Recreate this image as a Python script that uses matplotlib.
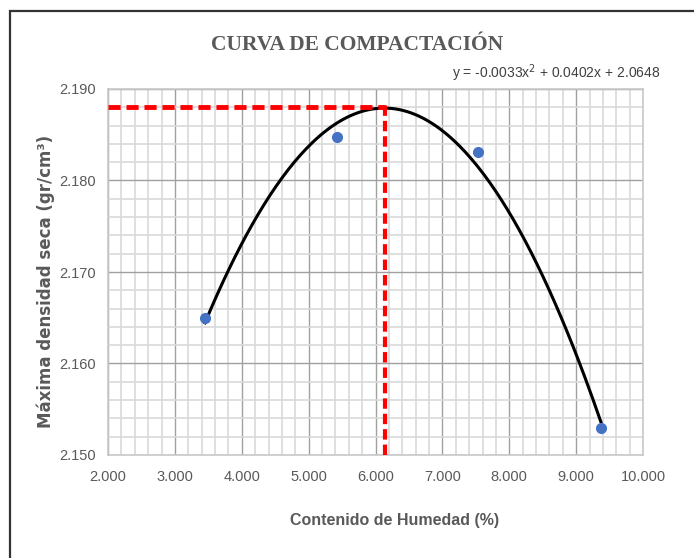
import numpy as np
import matplotlib
matplotlib.use("Agg")
import matplotlib.pyplot as plt
from matplotlib.ticker import MultipleLocator, FormatStrFormatter
from matplotlib.patches import Rectangle

# Data
humedad = [3.45, 5.43, 7.54, 9.37]
densidad = [2.1650, 2.1847, 2.1831, 2.1530]
omc = 6.14
mdd = 2.188

x_ticks = [2, 3, 4, 5, 6, 7, 8, 9, 10]
y_ticks = [2.150, 2.160, 2.170, 2.180, 2.190]

W, H = 694, 558
fig = plt.figure(figsize=(W / 100, H / 100), dpi=100)
fig.patch.set_facecolor("white")

# outer border
fig.patches.append(Rectangle((10 / W, -0.05), 1.2, 1 - 11 / H + 0.05, transform=fig.transFigure,
                             fill=False, edgecolor="#333333", linewidth=1.6))

ax = fig.add_axes([108 / W, 1 - 455 / H, (643 - 108) / W, (455 - 89) / H])
ax.set_xlim(2, 10)
ax.set_ylim(2.150, 2.190)
ax.set_xticks(x_ticks)
ax.set_yticks(y_ticks)
ax.xaxis.set_minor_locator(MultipleLocator(0.2))
ax.yaxis.set_minor_locator(MultipleLocator(0.002))
ax.xaxis.set_major_formatter(FormatStrFormatter("%.3f"))
ax.yaxis.set_major_formatter(FormatStrFormatter("%.3f"))
ax.grid(which="minor", color="#d9d9d9", linewidth=1.2)
ax.grid(which="major", color="#a0a0a0", linewidth=1.0)
ax.set_axisbelow(True)
for s in ax.spines.values():
    s.set_color("#c8c8c8")
    s.set_linewidth(1.2)
ax.tick_params(which="both", length=0)
tick_font = "Liberation Sans"
for lab in ax.get_xticklabels() + ax.get_yticklabels():
    lab.set_fontfamily(tick_font)
    lab.set_fontsize(10.5)
    lab.set_color("#595959")
ax.tick_params(axis="x", pad=11)
ax.tick_params(axis="y", pad=9)

# polynomial trendline (order 2) through the data
coef = np.polyfit(humedad, densidad, 2)
xs = np.linspace(min(humedad), max(humedad), 200)
ys = np.polyval(coef, xs)
ax.plot(xs, ys, color="black", linewidth=2.2, zorder=3)

# red reference lines
ax.plot([2, omc], [mdd, mdd], color="red", linestyle=(0, (2.5, 1.2)), linewidth=3.5, zorder=4)
ax.plot([omc, omc], [2.150, mdd + 0.0006], color="red", linestyle=(0, (2.5, 1.2)), linewidth=3.0, zorder=4)

ax.plot(humedad, densidad, "o", color="#4472C4", markersize=7, zorder=5)

fig.text(357 / W, 1 - 45 / H, "CURVA DE COMPACTACIÓN", ha="center", va="center",
         fontfamily="Liberation Serif", fontweight="bold", fontsize=15.5, color="#595959")
fig.text(660 / W, 1 - 73 / H, "y = -0.0033x$^{2}$ + 0.0402x + 2.0648", ha="right", va="center",
         fontfamily=tick_font, fontsize=10, color="#404040")
fig.text(395 / W, 1 - 521 / H, "Contenido de Humedad (%)", ha="center", va="center",
         fontfamily=tick_font, fontweight="bold", fontsize=11.5, color="#595959")
fig.text(46 / W, 1 - 281 / H, "Máxima densidad seca (gr/cm³)", ha="center", va="center",
         rotation=90, fontfamily="DejaVu Sans", fontweight="bold", fontsize=12, color="#595959")

fig.savefig("out.png", dpi=100)
